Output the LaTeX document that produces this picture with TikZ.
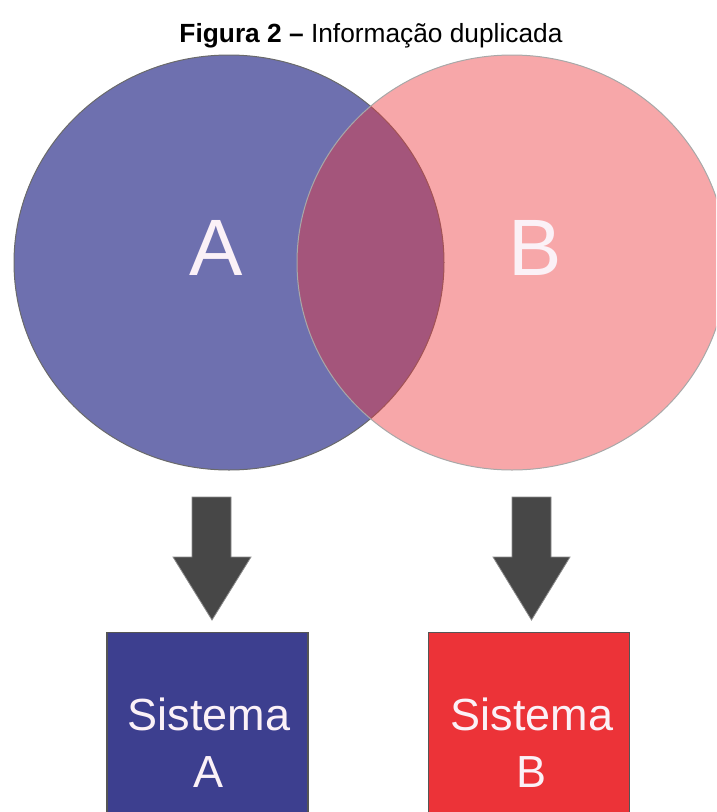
\documentclass[tikz,border=0pt]{standalone}
\usepackage{fontspec}
\setmainfont{Liberation Sans}
\usetikzlibrary{shapes.geometric}
\definecolor{circA}{HTML}{6E70AF}
\definecolor{circB}{HTML}{EC3338}
\definecolor{boxA}{HTML}{3D3F8F}
\definecolor{boxB}{HTML}{EC3338}
\definecolor{arrowfill}{HTML}{474747}
\definecolor{arrowline}{HTML}{8C8C8C}
\definecolor{lettercol}{HTML}{FBF1F7}
\definecolor{lineA}{HTML}{6A6A6A}
\definecolor{lineB}{HTML}{A8A8A8}
\definecolor{boxline}{HTML}{555555}
\begin{document}
\begin{tikzpicture}[x=1pt,y=-1pt,
  venn/.style={ellipse, inner sep=0pt, minimum width=430pt, minimum height=415pt, line width=1pt},
  bigletter/.style={anchor=base, inner sep=0pt, text=lettercol, font=\fontsize{80}{96}\selectfont},
  sysbox/.style={rectangle, inner sep=0pt, minimum width=201pt, minimum height=200pt, draw=boxline, line width=1.2pt},
  systext/.style={anchor=north, inner sep=0pt, align=center, text=lettercol, font=\fontsize{45}{57}\selectfont},
  blockarrow/.style={fill=arrowfill, draw=arrowline, line width=0.8pt, line join=miter},
  title/.style={anchor=base, inner sep=0pt, font=\fontsize{26.3}{31}\selectfont}]
\useasboundingbox (0,0) rectangle (716,812);
\clip (0,0) rectangle (716,812);
\node[title] (title) at (371,42.5) {\textbf{Figura 2 –} Informação duplicada};
\node[venn, fill=circA, draw=lineA] (cA) at (229,262.5) {};
\node[venn, fill=circB, fill opacity=0.43, draw=lineB] (cB) at (512,262.5) {};
\node[bigletter] (lA) at (216.5,275) {A};
\node[bigletter] (lB) at (535,275) {B};
\draw[blockarrow] (192,497) -- (231,497) -- (231,557) -- (251,557) -- (212,620) -- (173,557) -- (192,557) -- cycle;
\draw[blockarrow] (512,497) -- (551,497) -- (551,557) -- (570,557) -- (531.5,620) -- (493,557) -- (512,557) -- cycle;
\node[sysbox, fill=boxA, anchor=north] (sA) at (207.5,632) {};
\node[sysbox, fill=boxB, anchor=north] (sB) at (529,632) {};
\node[systext] (tA) at (209,697.5) {Sistema\\A};
\node[systext] (tB) at (532,697.5) {Sistema\\B};
\end{tikzpicture}
\end{document}
